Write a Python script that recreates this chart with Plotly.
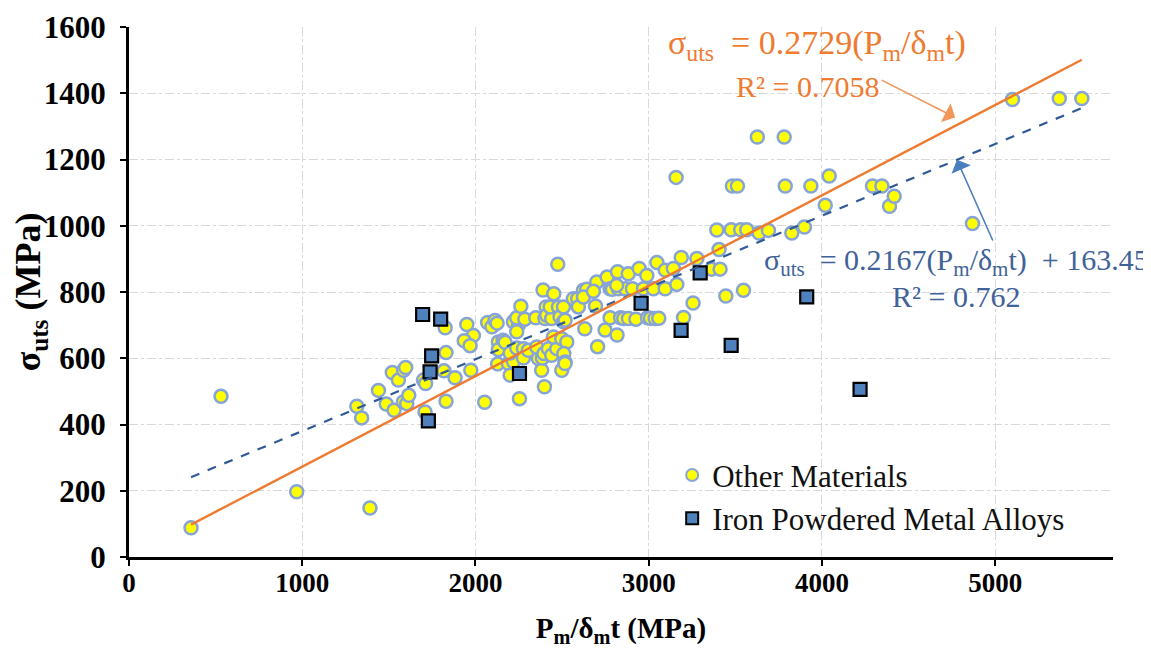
import plotly.graph_objects as go

# ---------------- data ----------------
x_other = [358, 531, 968, 1391, 1315, 1343, 1440, 1485, 1530, 1584, 1603, 1615, 1520, 1555, 1585, 1597,
           1700, 1712, 1709, 1825, 1830, 1818, 1882, 1830, 1950, 1988, 1935, 1969, 1973, 2053, 2070, 2095,
           2113, 2125, 2132, 2160, 2132, 2128, 2171, 2190, 2219, 2200, 2200, 2238, 2277, 2219, 2248, 2238,
           2262, 2285, 2238, 2277, 2305, 2254, 2348, 2363, 2353, 2382, 2386, 2395, 2398, 2390, 2408, 2401,
           2411, 2421, 2440, 2469, 2450, 2498, 2440, 2431, 2452, 2479, 2475, 2488, 2508, 2508, 2517, 2527,
           2510, 2517, 2498, 2517, 2565, 2590, 2594, 2623, 2642, 2623, 2700, 2693, 2681, 2631, 2705, 2760,
           2820, 2882, 2777, 2790, 2825, 2864, 2906, 2815, 2777, 2838, 2856, 2883, 2748, 2817, 2945, 2989,
           3047, 3095, 3142, 3188, 2970, 3027, 3095, 3162, 2926, 2993, 3010, 3037, 3058, 3158, 3201, 3256,
           3278, 3363, 3412, 3393, 3406, 3445, 3547, 3476, 3531, 3566, 3483, 3512, 3627, 3637, 3691, 3782,
           3788, 3826, 3899, 3936, 4019, 4042, 4292, 4346, 4390, 4417, 4869, 5100, 5370, 5500]
y_other = [88, 485, 197, 148, 455, 420, 503, 462, 443, 468, 463, 488, 557, 534, 564, 572,
           534, 524, 438, 692, 617, 562, 541, 470, 702, 669, 653, 638, 564, 467, 708, 695,
           714, 706, 649, 654, 626, 583, 648, 584, 590, 549, 616, 631, 629, 710, 700, 722,
           757, 718, 680, 601, 624, 478, 722, 599, 634, 564, 601, 614, 514, 806, 755, 720,
           730, 629, 609, 629, 664, 659, 720, 755, 795, 755, 884, 725, 755, 710, 715, 649,
           614, 589, 564, 584, 780, 780, 755, 805, 808, 785, 830, 758, 802, 689, 635, 845,
           861, 855, 810, 808, 810, 810, 810, 820, 722, 722, 720, 720, 685, 670, 871, 850,
           889, 866, 871, 904, 810, 810, 810, 823, 718, 722, 721, 720, 721, 1146, 723, 767,
           901, 869, 869, 987, 928, 788, 805, 988, 988, 988, 1120, 1120, 1268, 978, 986, 1268,
           1120, 978, 996, 1120, 1062, 1150, 1120, 1120, 1059, 1089, 1007, 1381, 1384, 1384]

x_iron = [1695, 1799, 1747, 1738, 1728, 2254, 2956, 3297, 3187, 3476, 3912, 4220]
y_iron = [732, 718, 607, 559, 411, 554, 766, 858, 684, 639, 785, 506]

series_names = ["Other Materials", "Iron Powdered Metal Alloys"]

# trendline coefficients (from the chart's equations)
slope_orange = 0.2729
slope_blue, intercept_blue = 0.2167, 163.45

x_ticks = [0, 1000, 2000, 3000, 4000, 5000]
y_ticks = [0, 200, 400, 600, 800, 1000, 1200, 1400, 1600]

# ---------------- figure ----------------
SERIF = "Liberation Serif"
ORANGE = "#EE7B30"
BLUE_TXT = "#3F6299"

x_all = x_other + x_iron
x_fit = [min(x_all), max(x_all)]

fig = go.Figure()

fig.add_trace(go.Scatter(
    x=x_other, y=y_other, mode="markers", name=series_names[0],
    marker=dict(symbol="circle", size=13, color="#FFFF00",
                line=dict(color="#86A4D6", width=2.5))))

fig.add_trace(go.Scatter(
    x=x_iron, y=y_iron, mode="markers", name=series_names[1],
    marker=dict(symbol="square", size=13, color="#4F81BD",
                line=dict(color="#000000", width=2.2))))

fig.add_trace(go.Scatter(
    x=x_fit, y=[slope_blue * v + intercept_blue for v in x_fit], mode="lines",
    line=dict(color="#2F5A96", width=2.2, dash="dash"), showlegend=False, hoverinfo="skip"))

fig.add_trace(go.Scatter(
    x=x_fit, y=[slope_orange * v for v in x_fit], mode="lines",
    line=dict(color=ORANGE, width=2.4), showlegend=False, hoverinfo="skip"))

annotations = [
    dict(x=3972, y=1545, xref="x", yref="y", showarrow=False,
         text="σ<sub>uts</sub>  = 0.2729(P<sub>m</sub>/δ<sub>m</sub>t)",
         font=dict(family=SERIF, size=34, color=ORANGE), xanchor="center", yanchor="middle"),
    dict(x=3915, y=1420, xref="x", yref="y", showarrow=False,
         text="R² = 0.7058",
         font=dict(family=SERIF, size=30, color=ORANGE), xanchor="center", yanchor="middle"),
    dict(x=4775, y=890, xref="x", yref="y", showarrow=False,
         text="σ<sub>uts</sub>  = 0.2167(P<sub>m</sub>/δ<sub>m</sub>t)  + 163.45",
         font=dict(family=SERIF, size=30, color=BLUE_TXT), xanchor="center", yanchor="middle"),
    dict(x=4775, y=786, xref="x", yref="y", showarrow=False,
         text="R² = 0.762",
         font=dict(family=SERIF, size=30, color=BLUE_TXT), xanchor="center", yanchor="middle"),
    # arrows
    dict(x=4769, y=1327, ax=4336, ay=1442, xref="x", yref="y", axref="x", ayref="y",
         text="", showarrow=True, arrowhead=1, arrowsize=2.2, arrowwidth=1.6, arrowcolor="#F2965A"),
    dict(x=4779, y=1199, ax=4990, ay=951, xref="x", yref="y", axref="x", ayref="y",
         text="", showarrow=True, arrowhead=1, arrowsize=2.2, arrowwidth=1.6, arrowcolor="#4A7EBF"),
]

# page body has an 8px margin, so the figure is placed 8px in from the top-left
fig.update_layout(
    width=1143, height=640,
    margin=dict(l=121, r=38, t=19, b=91),
    paper_bgcolor="white", plot_bgcolor="white",
    font=dict(family=SERIF, color="#000000"),
    annotations=annotations,
    legend=dict(x=0.552, y=0.205, xanchor="left", yanchor="top",
                font=dict(family=SERIF, size=31, color="#111111"),
                bgcolor="rgba(255,255,255,0)", itemsizing="constant",
                tracegroupgap=0),
    showlegend=True,
)

fig.update_xaxes(
    range=[0, 5680], tickvals=x_ticks, ticktext=[str(v) for v in x_ticks],
    automargin=False,
    showline=True, linecolor="black", linewidth=3,
    ticks="outside", ticklen=6, tickwidth=2, tickcolor="black",
    ticklabelstandoff=-6,
    showgrid=True, gridcolor="#D9D9D9", gridwidth=1, griddash="dashdot",
    zeroline=False,
    tickfont=dict(family=SERIF, size=27, color="black", weight="bold"),
    title=dict(text="P<sub>m</sub>/δ<sub>m</sub>t (MPa)",
               font=dict(family=SERIF, size=29, color="black", weight="bold"), standoff=24),
)

fig.update_yaxes(
    range=[0, 1600], tickvals=y_ticks, ticktext=[str(v) for v in y_ticks],
    automargin=False,
    showline=True, linecolor="black", linewidth=3,
    ticks="outside", ticklen=6, tickwidth=2, tickcolor="black",
    ticklabelstandoff=8,
    showgrid=True, gridcolor="#D9D9D9", gridwidth=1, griddash="dashdot",
    zeroline=False,
    tickfont=dict(family=SERIF, size=31, color="black", weight="bold"),
    title=dict(text="σ<sub>uts</sub> (MPa)",
               font=dict(family=SERIF, size=36, color="black", weight="bold"), standoff=0),
)

fig.write_html("out.html")
